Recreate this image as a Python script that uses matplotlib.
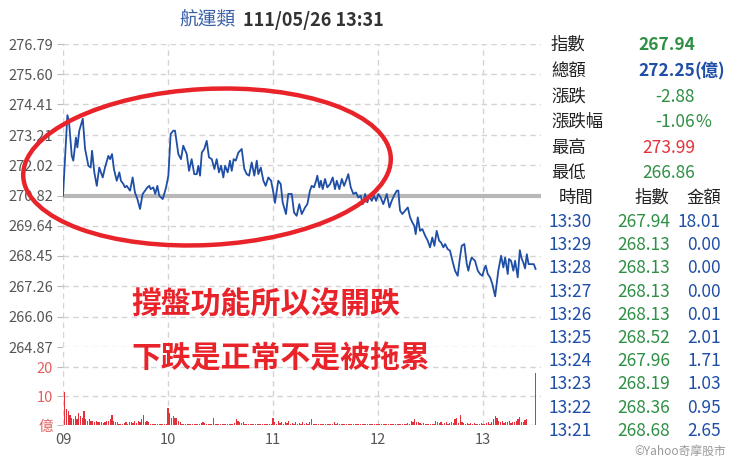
import matplotlib
matplotlib.use('Agg')
import matplotlib.pyplot as plt
from matplotlib.patches import Ellipse

plt.rcParams['font.family'] = ['Noto Sans CJK TC', 'DejaVu Sans']

# ---- data ----
prev_close = 270.82
price_ticks = [264.87, 266.06, 267.26, 268.45, 269.64, 270.82,
               272.02, 273.21, 274.41, 275.60, 276.79]
hour_ticks = [0, 60, 120, 180, 240]
hour_labels = ['09', '10', '11', '12', '13']

# minutes since 09:00 and index value
minutes = [0, 2.5, 3.4, 5.0, 5.9, 7.4, 8.2, 9.3, 11.3, 12.6, 14.5, 15.8, 16.6, 17.9,
           19.3, 20.7, 22.7, 24.0, 25.9, 26.9, 28.0, 29.1, 30.7, 32.2, 33.1, 34.5,
           35.4, 36.4, 38.3, 39.8, 41.1, 42.5, 44.0, 45.5, 46.9, 48.2, 49.3, 50.1,
           51.6, 52.7, 53.9, 55.0, 57.0, 58.9, 60.2, 61.5, 63.0, 64.0, 65.9, 67.4,
           68.7, 70.7, 72.0, 73.5, 75.0, 76.4, 77.3, 78.3, 79.3, 80.7, 82.1, 83.4,
           85.0, 86.5, 87.8, 89.1, 90.3, 91.6, 92.6, 94.1, 95.4, 96.4, 97.5, 98.7,
           100.2, 102.1, 103.6, 105.0, 106.3, 107.8, 109.3, 110.7, 111.6, 113.0,
           114.5, 115.8, 117.3, 118.9, 120.2, 121.1, 123.0, 124.4, 125.5, 127.4,
           128.7, 130.7, 132.0, 133.5, 135.0, 136.4, 138.3, 139.6, 141.1, 142.1,
           143.4, 144.6, 145.3, 146.5, 147.3, 148.4, 149.7, 151.0, 152.6, 154.1,
           155.4, 156.4, 157.9, 159.3, 160.6, 161.7, 163.0, 164.4, 165.9, 167.4,
           168.7, 170.1, 171.3, 172.6, 173.9, 175.0, 176.4, 177.7, 178.9, 180.2,
           181.5, 183.0, 184.0, 185.0, 186.5, 187.8, 189.1, 190.7, 191.6, 192.2,
           192.6, 193.9, 195.4, 197.0, 198.3, 199.6, 200.7, 201.5, 202.7, 204.0,
           205.3, 206.9, 208.4, 209.7, 211.0, 212.2, 213.5, 214.9, 216.0, 217.3,
           218.3, 219.8, 221.1, 222.5, 224.0, 225.5, 226.8, 227.8, 229.3, 230.7,
           231.6, 232.6, 233.5, 234.4, 235.4, 237.0, 238.3, 239.6, 240.7, 241.5,
           242.7, 244.0, 245.3, 246.9, 247.8, 248.7, 250.3, 251.6, 252.6, 254.1,
           254.8, 256.0, 257.3, 258.3, 259.8, 261.0, 262.0, 263.0, 264.0, 265.0,
           266.0, 267.0, 268.0, 269.0, 270.0]
price = [270.82, 273.99, 273.77, 272.39, 272.20, 273.11, 272.72, 273.38, 273.85, 272.67,
         272.00, 271.93, 272.59, 271.74, 271.21, 271.93, 271.54, 271.93, 272.39, 272.26,
         272.46, 271.87, 271.41, 271.74, 271.41, 271.28, 271.15, 271.21, 271.02, 271.54,
         270.95, 270.69, 270.30, 270.89, 271.02, 271.15, 271.21, 271.08, 271.15, 270.89,
         271.21, 270.82, 270.69, 271.15, 271.61, 273.25, 273.38, 273.38, 272.46, 272.26,
         272.79, 272.46, 271.80, 272.26, 271.67, 271.67, 272.00, 271.61, 272.52, 272.66,
         272.98, 272.33, 272.26, 271.87, 272.26, 271.74, 272.00, 271.54, 272.00, 271.74,
         272.20, 271.80, 272.26, 272.20, 272.52, 272.66, 271.87, 271.67, 271.61, 272.13,
         271.61, 272.20, 271.67, 271.93, 271.41, 271.21, 271.54, 271.41, 270.94, 270.54,
         271.41, 271.28, 270.56, 270.10, 270.89, 270.89, 270.16, 270.03, 270.49, 270.10,
         270.36, 270.49, 271.02, 271.21, 271.15, 271.41, 271.61, 271.15, 271.41, 271.08,
         271.48, 271.15, 271.28, 271.54, 271.08, 271.41, 271.08, 271.48, 271.21, 271.41,
         271.67, 271.15, 270.89, 270.95, 270.75, 270.82, 270.49, 270.89, 270.56, 270.82,
         270.62, 270.82, 270.62, 270.89, 270.75, 270.49, 270.69, 270.89, 270.36, 270.62,
         270.82, 271.02, 271.02, 270.49, 270.23, 270.10, 270.23, 270.36, 269.97, 269.77,
         269.64, 269.31, 269.97, 269.44, 269.51, 269.25, 269.05, 268.79, 269.18, 268.85,
         269.44, 269.05, 268.98, 268.79, 268.92, 268.72, 268.66, 268.26, 267.87, 267.67,
         268.39, 268.85, 268.92, 268.13, 267.87, 268.20, 268.39, 268.33, 268.26, 267.87,
         267.74, 267.67, 267.94, 268.07, 267.74, 267.61, 267.35, 266.86, 267.35, 267.87,
         268.46, 268.00, 268.39, 267.74, 268.33, 268.26, 267.87, 268.26, 267.61, 268.68,
         268.36, 268.19, 267.96, 268.52, 268.13, 268.13, 268.13, 268.13, 267.94]

# per-minute turnover (億), minutes 1..270
vol_minutes = list(range(1, 271))
volume = [11.5, 5.5, 5.0, 3.5, 2.5, 2.0, 3.0, 2.0, 4.0, 3.0,
          2.5, 4.8, 2.0, 1.5, 2.0, 1.5, 1.5, 1.2, 1.5, 1.0,
          1.2, 1.0, 0.8, 1.2, 1.5, 1.5, 2.0, 3.5, 1.5, 1.0,
          1.0, 0.5, 0.5, 0.5, 0.8, 1.0, 0.5, 1.0, 1.0, 0.8,
          1.5, 0.8, 1.5, 1.0, 2.0, 3.5, 1.2, 1.5, 1.0, 0.3,
          0.3, 0.2, 0.3, 0.2, 0.3, 0.2, 0.3, 0.2, 0.3, 6.0,
          4.0, 2.5, 3.0, 2.5, 2.5, 1.5, 1.0, 0.5, 0.3, 0.3,
          0.3, 0.2, 0.3, 0.2, 0.3, 0.2, 0.3, 0.5, 0.8, 1.0,
          0.8, 0.3, 0.2, 0.3, 0.5, 2.5, 0.5, 0.3, 0.2, 0.3,
          0.3, 0.2, 0.3, 0.5, 0.3, 0.2, 0.5, 0.8, 2.0, 1.5,
          1.0, 0.8, 1.0, 0.5, 0.3, 0.2, 0.3, 0.2, 0.3, 0.2,
          0.3, 0.2, 0.3, 0.2, 0.3, 0.2, 0.3, 0.2, 0.3, 2.5,
          1.0, 0.5, 1.5, 0.8, 1.0, 0.5, 1.2, 0.8, 1.5, 0.5,
          0.8, 0.5, 1.0, 0.5, 0.8, 0.3, 1.0, 0.5, 0.8, 0.5,
          1.0, 2.0, 0.5, 0.3, 0.5, 0.3, 0.2, 0.3, 0.2, 0.3,
          0.2, 0.3, 0.5, 0.3, 1.0, 0.5, 0.8, 0.3, 0.2, 0.3,
          0.2, 0.3, 0.2, 0.3, 0.5, 0.2, 0.3, 0.2, 0.3, 0.2,
          0.3, 0.2, 0.3, 0.2, 0.3, 0.5, 0.2, 0.3, 0.2, 0.3,
          0.2, 0.3, 0.2, 0.3, 0.2, 0.3, 0.2, 0.3, 0.5, 0.3,
          0.2, 0.3, 0.2, 0.3, 0.5, 0.3, 0.8, 0.5, 1.5, 1.0,
          2.0, 1.0, 1.2, 0.8, 0.5, 0.8, 0.5, 0.3, 0.5, 0.3,
          0.5, 0.3, 1.5, 1.0, 0.8, 1.0, 0.5, 0.8, 1.0, 0.5,
          0.8, 1.0, 0.8, 2.0, 2.3, 0.8, 3.5, 1.0, 0.8, 0.5,
          0.8, 0.5, 0.8, 0.5, 0.8, 0.5, 0.3, 0.5, 0.8, 0.5,
          0.5, 0.8, 1.0, 0.5, 1.0, 2.0, 3.0, 2.5, 1.5, 1.0,
          1.5, 0.8, 1.2, 1.0, 1.5, 0.8, 1.2, 1.0, 1.5, 2.0,
          2.65, 0.95, 1.03, 1.71, 2.01, 0.01, 0.00, 0.00, 0.00, 18.01]

# quote box on the right
quote_labels = ['指數', '總額', '漲跌', '漲跌幅', '最高', '最低']
quote_values = ['267.94', '272.25', '-2.88', '-1.06', '273.99', '266.86']
quote_suffix = ['', '(億)', '', '%', '', '']
tbl_times = ['13:30', '13:29', '13:28', '13:27', '13:26',
             '13:25', '13:24', '13:23', '13:22', '13:21']
tbl_index = ['267.94', '268.13', '268.13', '268.13', '268.13',
             '268.52', '267.96', '268.19', '268.36', '268.68']
tbl_amount = ['18.01', '0.00', '0.00', '0.00', '0.01',
              '2.01', '1.71', '1.03', '0.95', '2.65']

# ---- colours ----
BLUE = '#1f4ea6'
GREEN = '#2f8f45'
RED = '#e3323b'
GRID = '#d4d4d4'
TXT = '#555555'

fig = plt.figure(figsize=(7.4, 4.65), dpi=100)

# price panel
ax = fig.add_axes([63 / 740, 1 - 347 / 465, 478 / 740, 303 / 465])
ax.set_axisbelow(True)
ax.axhline(prev_close, color='#b8b8b8', lw=3, zorder=1)
ax.plot(minutes, price, color=BLUE, lw=1.3, zorder=3)
ax.set_xlim(0, 273.1)
ax.set_ylim(price_ticks[0], price_ticks[-1])
ax.set_yticks(price_ticks)
ax.set_yticklabels(['%.2f' % v for v in price_ticks])
ax.set_xticks(hour_ticks)
ax.set_xticklabels([])
ax.grid(True, color=GRID, ls=(0, (4, 3)), lw=1)
ax.tick_params(axis='y', length=4, color='#bbbbbb', labelsize=10.5, labelcolor=TXT, pad=3)
ax.tick_params(axis='x', length=0)
for s in ax.spines.values():
    s.set_visible(False)

# turnover panel
axv = fig.add_axes([63 / 740, 1 - 425 / 465, 478 / 740, 78 / 465])
axv.set_axisbelow(True)
axv.bar(vol_minutes, volume, width=0.7, color=RED, linewidth=0, zorder=3)
axv.set_xlim(0, 273.1)
axv.set_ylim(0, 26.9)
axv.set_yticks([0, 10, 20])
axv.set_yticklabels(['億', '10', '20'])
axv.set_xticks(hour_ticks)
axv.set_xticklabels(hour_labels)
axv.grid(True, color=GRID, ls=(0, (4, 3)), lw=1)
axv.tick_params(axis='y', length=4, color='#bbbbbb', labelsize=10.5, labelcolor='#e06060', pad=3)
axv.tick_params(axis='x', length=0, labelsize=10.5, labelcolor=TXT, pad=6)
for s in axv.spines.values():
    s.set_visible(False)

# overlay in pixel units for title, quote box and the hand-drawn note
ov = fig.add_axes([0, 0, 1, 1], zorder=10)
ov.set_xlim(0, 740)
ov.set_ylim(465, 0)
ov.axis('off')
ov.patch.set_alpha(0)

ov.text(236, 20, '航運類', color='#3a60a8', fontsize=13.5, ha='right', va='center')
ov.text(243, 20, '111/05/26 13:31', color='#333333', fontsize=13, fontweight='bold',
        ha='left', va='center')

q_colors = [GREEN, BLUE, GREEN, GREEN, RED, GREEN]
q_weights = ['bold', 'bold', 'normal', 'normal', 'normal', 'normal']
q_y = [45, 71, 97, 122, 148, 173]
for lab, val, suf, c, w, y in zip(quote_labels, quote_values, quote_suffix,
                                  q_colors, q_weights, q_y):
    ov.text(551, y, lab, color='#222222', fontsize=12.5, ha='left', va='center')
    ov.text(695, y, val, color=c, fontsize=12.5, fontweight=w, ha='right', va='center')
    if suf:
        ov.text(695, y, suf, color=c, fontsize=12.5, fontweight=w, ha='left', va='center')

ov.text(576, 198, '時間', color='#222222', fontsize=12.5, ha='center', va='center')
ov.text(652, 198, '指數', color='#222222', fontsize=12.5, ha='center', va='center')
ov.text(704, 198, '金額', color='#222222', fontsize=12.5, ha='center', va='center')
for i, (t, v, a) in enumerate(zip(tbl_times, tbl_index, tbl_amount)):
    y = 222 + i * 23.2
    ov.text(548, y, t, color=BLUE, fontsize=12.5, ha='left', va='center')
    ov.text(670, y, v, color=GREEN, fontsize=12.5, ha='right', va='center')
    ov.text(721, y, a, color=BLUE, fontsize=12.5, ha='right', va='center')

ov.text(726, 451, '©Yahoo奇摩股市', color='#999999', fontsize=8.5, ha='right', va='center')

# red marker annotation
ov.add_patch(Ellipse((207, 167), 368, 156, angle=-3, fill=False,
                     edgecolor='#e8232a', lw=3.2))
ov.text(131, 305, '撐盤功能所以沒開跌', color='#e8232a', fontsize=21.5,
        fontweight='bold', ha='left', va='center')
ov.text(131, 358, '下跌是正常不是被拖累', color='#e8232a', fontsize=21.5,
        fontweight='bold', ha='left', va='center')

fig.savefig('out.png', dpi=100)
